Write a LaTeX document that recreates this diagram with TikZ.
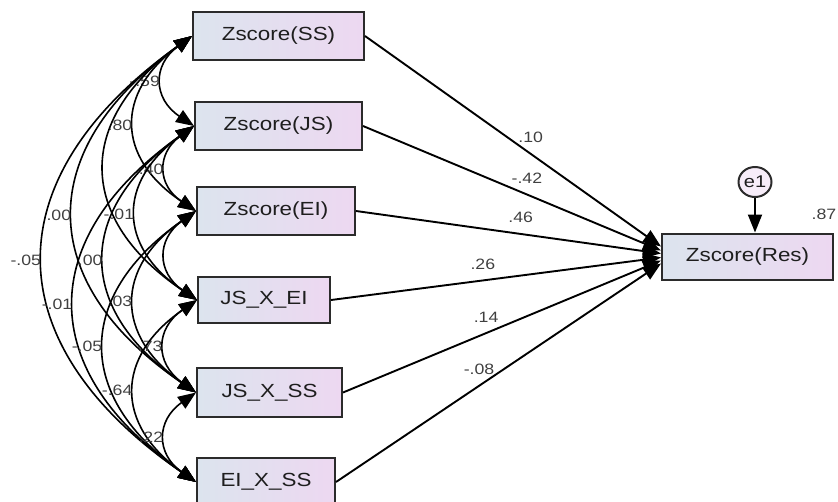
\documentclass[tikz,border=0pt]{standalone}
\usepackage{fontspec}
\setmainfont{Liberation Sans}[FakeStretch=1.18]
\usepackage{tikz}
\usetikzlibrary{arrows.meta,shapes}
\definecolor{boxleft}{HTML}{DCE4EE}
\definecolor{boxright}{HTML}{EDD8F1}
\definecolor{boxline}{HTML}{2B2B2B}
\definecolor{txt}{HTML}{1E1E1E}

\begin{document}
\begin{tikzpicture}[x=1pt,y=-1pt,
	>={Triangle[length=18pt,width=14pt]},
	var/.style={draw=boxline,line width=2pt,left color=boxleft,right color=boxright,minimum height=48pt,inner sep=0pt,font=\fontsize{19}{19}\selectfont,text=txt},
	err/.style={draw=boxline,line width=2pt,ellipse,fill=boxright!45!white,minimum width=33pt,minimum height=30pt,inner sep=0pt,font=\fontsize{17}{17}\selectfont,text=txt},
	coef/.style={font=\fontsize{15}{15}\selectfont,text=txt!85!white,inner sep=2pt},
	cov/.style={line width=1.6pt,<->,bend right=55,looseness=1.4},
	regr/.style={line width=1.9pt,->}]
	
	\useasboundingbox (0,0) rectangle (838,501);
	
	\node[var,minimum width=171pt] (ss) at (278.5,36) {Zscore(SS)};
	\node[var,minimum width=167pt] (js) at (278.5,126) {Zscore(JS)};
	\node[var,minimum width=158pt] (ei) at (276,211) {Zscore(EI)};
	\node[var,minimum width=132pt,minimum height=46pt] (jsei) at (264,300) {JS\_X\_EI};
	\node[var,minimum width=145pt,minimum height=49pt] (jsss) at (269.5,392.5) {JS\_X\_SS};
	\node[var,minimum width=138pt] (eiss) at (266,482) {EI\_X\_SS};
	\node[var,minimum width=171pt,minimum height=46pt] (res) at (747.5,256.5) {Zscore(Res)};
	\node[err] (e1) at (755,182) {e1};
	\node[coef] (r2) at (824,214) {.87};
	
	\draw[cov] (ss.west) to node[coef,left]{-.59} (js.west);
	\draw[cov] (ss.west) to node[coef,left]{.80} (ei.west);
	\draw[cov] (ss.west) to (jsei.west);
	\draw[cov] (ss.west) to node[coef,left]{.00} (jsss.west);
	\draw[cov] (ss.west) to node[coef,left]{-.05} (eiss.west);
	\draw[cov] (js.west) to node[coef,left]{.40} (ei.west);
	\draw[cov] (js.west) to node[coef,left]{-.01} (jsei.west);
	\draw[cov] (js.west) to node[coef,left]{.00} (jsss.west);
	\draw[cov] (js.west) to node[coef,left]{-.01} (eiss.west);
	\draw[cov] (ei.west) to (jsei.west);
	\draw[cov] (ei.west) to node[coef,left]{.03} (jsss.west);
	\draw[cov] (ei.west) to node[coef,left]{-.05} (eiss.west);
	\draw[cov] (jsei.west) to node[coef,left]{.73} (jsss.west);
	\draw[cov] (jsei.west) to node[coef,left]{-.64} (eiss.west);
	\draw[cov] (jsss.west) to node[coef,left]{.22} (eiss.west);
	
	\draw[regr] (ss.east) -- node[coef,above=8pt,pos=0.56]{.10} ([yshift=10pt]res.west);
	\draw[regr] (js.east) -- node[coef,above=8pt,pos=0.55]{-.42} ([yshift=6pt]res.west);
	\draw[regr] (ei.east) -- node[coef,above=8pt,pos=0.54]{.46} ([yshift=3pt]res.west);
	\draw[regr] (jsei.east) -- node[coef,above=8pt,pos=0.46]{.26} ([yshift=-1pt]res.west);
	\draw[regr] (jsss.east) -- node[coef,above=8pt,pos=0.45]{.14} ([yshift=-4pt]res.west);
	\draw[regr] (eiss.east) -- node[coef,above=8pt,pos=0.44]{-.08} ([yshift=-7pt]res.west);
	\draw[regr] (e1) -- (e1 |- res.north);
	
\end{tikzpicture}
\end{document}
